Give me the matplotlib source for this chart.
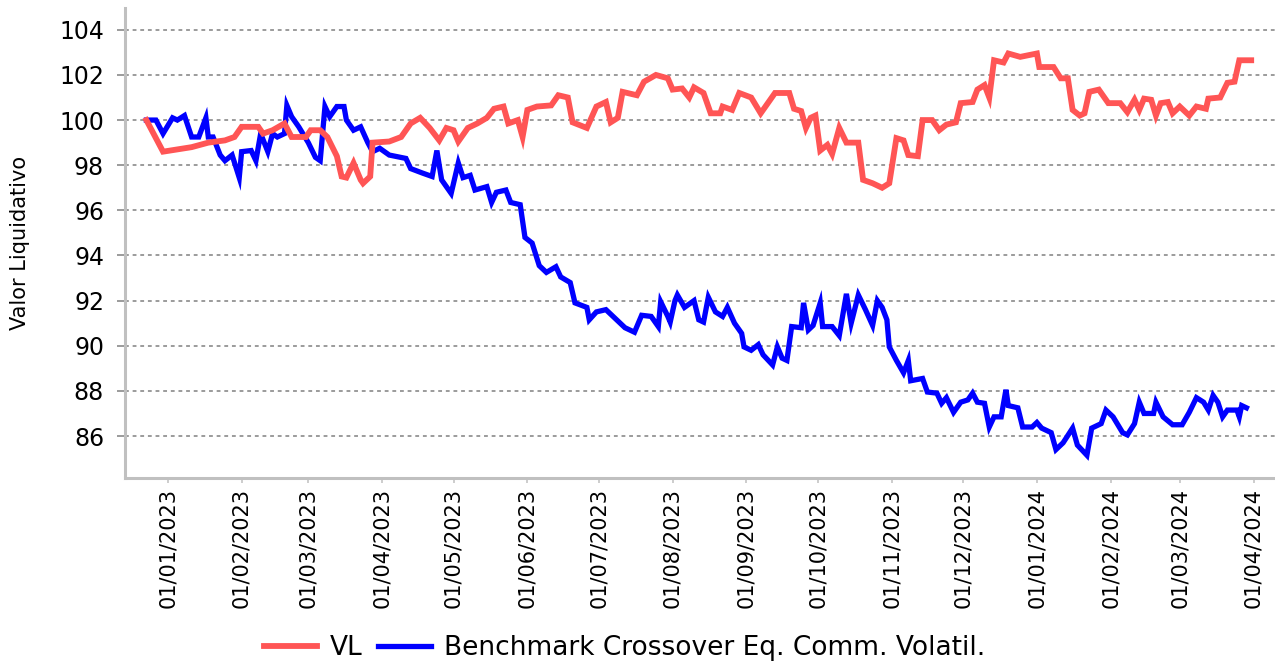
import matplotlib
matplotlib.use('Agg')
import matplotlib.pyplot as plt
import matplotlib.dates as mdates
import pandas as pd

# VL (fundo)
vl_dates = ['2022-12-23', '2022-12-30', '2023-01-11', '2023-01-18', '2023-01-25', '2023-01-29',
            '2023-02-01', '2023-02-08', '2023-02-10', '2023-02-14', '2023-02-19', '2023-02-22',
            '2023-02-28', '2023-03-02', '2023-03-06', '2023-03-09', '2023-03-13', '2023-03-15',
            '2023-03-17', '2023-03-20', '2023-03-23', '2023-03-24', '2023-03-27', '2023-03-28',
            '2023-04-04', '2023-04-09', '2023-04-13', '2023-04-17', '2023-04-21', '2023-04-25',
            '2023-04-28', '2023-05-01', '2023-05-03', '2023-05-07', '2023-05-11', '2023-05-15',
            '2023-05-18', '2023-05-22', '2023-05-24', '2023-05-28', '2023-05-30', '2023-06-01',
            '2023-06-05', '2023-06-11', '2023-06-14', '2023-06-18', '2023-06-20', '2023-06-26',
            '2023-06-30', '2023-07-04', '2023-07-06', '2023-07-09', '2023-07-11', '2023-07-17',
            '2023-07-20', '2023-07-25', '2023-07-30', '2023-08-01', '2023-08-05', '2023-08-08',
            '2023-08-10', '2023-08-14', '2023-08-17', '2023-08-21', '2023-08-22', '2023-08-26',
            '2023-08-29', '2023-09-03', '2023-09-07', '2023-09-10', '2023-09-13', '2023-09-19',
            '2023-09-21', '2023-09-24', '2023-09-26', '2023-09-28', '2023-09-30', '2023-10-02',
            '2023-10-05', '2023-10-07', '2023-10-10', '2023-10-13', '2023-10-18', '2023-10-20',
            '2023-10-24', '2023-10-28', '2023-10-31', '2023-11-03', '2023-11-06', '2023-11-08',
            '2023-11-12', '2023-11-14', '2023-11-18', '2023-11-21', '2023-11-24', '2023-11-28',
            '2023-11-30', '2023-12-05', '2023-12-07', '2023-12-10', '2023-12-12', '2023-12-14',
            '2023-12-18', '2023-12-20', '2023-12-25', '2024-01-01', '2024-01-02', '2024-01-08',
            '2024-01-11', '2024-01-14', '2024-01-16', '2024-01-19', '2024-01-21', '2024-01-23',
            '2024-01-27', '2024-01-31', '2024-02-05', '2024-02-08', '2024-02-11', '2024-02-13',
            '2024-02-15', '2024-02-18', '2024-02-20', '2024-02-22', '2024-02-25', '2024-02-27',
            '2024-03-01', '2024-03-05', '2024-03-08', '2024-03-12', '2024-03-13', '2024-03-18',
            '2024-03-21', '2024-03-24', '2024-03-26', '2024-03-31']
vl_values = [100.0, 98.6, 98.8, 99.0, 99.1, 99.25,
             99.7, 99.7, 99.4, 99.55, 99.85, 99.25,
             99.25, 99.55, 99.55, 99.25, 98.4, 97.5,
             97.45, 98.1, 97.35, 97.2, 97.5, 99.0,
             99.05, 99.25, 99.85, 100.1, 99.65, 99.1,
             99.65, 99.55, 99.05, 99.65, 99.85, 100.1,
             100.5, 100.6, 99.85, 100.0, 99.25, 100.45,
             100.6, 100.65, 101.1, 101.0, 99.9, 99.65,
             100.6, 100.8, 99.9, 100.1, 101.25, 101.1,
             101.7, 102.0, 101.85, 101.35, 101.4, 101.0,
             101.45, 101.2, 100.3, 100.3, 100.6, 100.45,
             101.2, 101.0, 100.3, 100.75, 101.2, 101.2,
             100.5, 100.4, 99.65, 100.1, 100.2, 98.65,
             98.9, 98.5, 99.65, 99.0, 99.0, 97.35,
             97.2, 97.0, 97.2, 99.2, 99.1, 98.45,
             98.4, 100.0, 100.0, 99.55, 99.8, 99.9,
             100.75, 100.8, 101.35, 101.55, 101.0, 102.65,
             102.55, 102.95, 102.8, 102.95, 102.35, 102.35,
             101.85, 101.85, 100.45, 100.2, 100.3, 101.25,
             101.35, 100.75, 100.75, 100.35, 100.9, 100.45,
             100.95, 100.9, 100.2, 100.75, 100.8, 100.3,
             100.6, 100.2, 100.6, 100.5, 100.95, 101.0,
             101.65, 101.7, 102.65, 102.65]

# Benchmark
bm_dates = ['2022-12-23', '2022-12-27', '2022-12-30', '2023-01-03', '2023-01-05', '2023-01-08',
            '2023-01-11', '2023-01-14', '2023-01-17', '2023-01-18', '2023-01-20', '2023-01-23',
            '2023-01-25', '2023-01-28', '2023-01-31', '2023-02-01', '2023-02-05', '2023-02-07',
            '2023-02-09', '2023-02-12', '2023-02-14', '2023-02-16', '2023-02-19', '2023-02-20',
            '2023-02-22', '2023-02-25', '2023-03-01', '2023-03-04', '2023-03-06', '2023-03-08',
            '2023-03-10', '2023-03-13', '2023-03-16', '2023-03-17', '2023-03-20', '2023-03-23',
            '2023-03-26', '2023-03-28', '2023-03-31', '2023-04-04', '2023-04-11', '2023-04-13',
            '2023-04-18', '2023-04-22', '2023-04-24', '2023-04-26', '2023-04-30', '2023-05-03',
            '2023-05-05', '2023-05-08', '2023-05-10', '2023-05-15', '2023-05-17', '2023-05-19',
            '2023-05-23', '2023-05-25', '2023-05-29', '2023-05-31', '2023-06-03', '2023-06-06',
            '2023-06-09', '2023-06-13', '2023-06-15', '2023-06-19', '2023-06-21', '2023-06-26',
            '2023-06-27', '2023-06-30', '2023-07-04', '2023-07-07', '2023-07-12', '2023-07-16',
            '2023-07-19', '2023-07-23', '2023-07-26', '2023-07-27', '2023-07-30', '2023-07-31',
            '2023-08-02', '2023-08-03', '2023-08-06', '2023-08-10', '2023-08-12', '2023-08-14',
            '2023-08-16', '2023-08-19', '2023-08-22', '2023-08-24', '2023-08-27', '2023-08-30',
            '2023-08-31', '2023-09-03', '2023-09-06', '2023-09-08', '2023-09-12', '2023-09-14',
            '2023-09-16', '2023-09-18', '2023-09-20', '2023-09-24', '2023-09-25', '2023-09-27',
            '2023-09-29', '2023-10-02', '2023-10-03', '2023-10-07', '2023-10-10', '2023-10-13',
            '2023-10-15', '2023-10-18', '2023-10-21', '2023-10-24', '2023-10-26', '2023-10-28',
            '2023-10-30', '2023-10-31', '2023-11-03', '2023-11-06', '2023-11-08', '2023-11-09',
            '2023-11-14', '2023-11-16', '2023-11-20', '2023-11-22', '2023-11-24', '2023-11-27',
            '2023-11-30', '2023-12-03', '2023-12-05', '2023-12-07', '2023-12-10', '2023-12-12',
            '2023-12-14', '2023-12-17', '2023-12-19', '2023-12-20', '2023-12-24', '2023-12-26',
            '2023-12-30', '2024-01-01', '2024-01-03', '2024-01-07', '2024-01-09', '2024-01-12',
            '2024-01-16', '2024-01-18', '2024-01-22', '2024-01-24', '2024-01-28', '2024-01-30',
            '2024-02-02', '2024-02-06', '2024-02-08', '2024-02-11', '2024-02-13', '2024-02-15',
            '2024-02-19', '2024-02-20', '2024-02-23', '2024-02-27', '2024-03-02', '2024-03-05',
            '2024-03-08', '2024-03-11', '2024-03-13', '2024-03-15', '2024-03-17', '2024-03-19',
            '2024-03-21', '2024-03-25', '2024-03-26', '2024-03-27', '2024-03-29']
bm_values = [100.0, 100.0, 99.4, 100.1, 100.0, 100.2,
             99.25, 99.25, 100.1, 99.25, 99.25, 98.45,
             98.2, 98.45, 97.45, 98.6, 98.65, 98.2,
             99.4, 98.6, 99.4, 99.25, 99.4, 100.65,
             100.15, 99.7, 99.0, 98.35, 98.2, 100.6,
             100.15, 100.6, 100.6, 100.0, 99.55, 99.7,
             99.0, 98.6, 98.75, 98.45, 98.3, 97.85,
             97.65, 97.5, 98.65, 97.35, 96.75, 98.1,
             97.45, 97.55, 96.9, 97.05, 96.35, 96.8,
             96.9, 96.35, 96.25, 94.8, 94.55, 93.55,
             93.25, 93.5, 93.05, 92.8, 91.9, 91.7,
             91.15, 91.5, 91.6, 91.3, 90.8, 90.6,
             91.35, 91.3, 90.85, 91.95, 91.3, 91.05,
             92.0, 92.25, 91.7, 92.0, 91.15, 91.05,
             92.15, 91.5, 91.3, 91.7, 91.0, 90.55,
             89.95, 89.8, 90.05, 89.6, 89.15, 89.95,
             89.45, 89.35, 90.85, 90.8, 91.9, 90.7,
             90.9, 91.9, 90.85, 90.85, 90.45, 92.3,
             91.0, 92.25, 91.6, 90.9, 92.0, 91.7,
             91.15, 89.95, 89.35, 88.8, 89.35, 88.45,
             88.55, 87.95, 87.9, 87.45, 87.7, 87.05,
             87.5, 87.6, 87.9, 87.5, 87.45, 86.4,
             86.85, 86.85, 88.05, 87.35, 87.25, 86.4,
             86.4, 86.6, 86.35, 86.15, 85.4, 85.7,
             86.35, 85.6, 85.15, 86.35, 86.55, 87.15,
             86.85, 86.15, 86.05, 86.55, 87.5, 87.0,
             87.0, 87.5, 86.85, 86.5, 86.5, 87.05,
             87.7, 87.5, 87.15, 87.8, 87.5, 86.85,
             87.15, 87.15, 86.85, 87.35, 87.25]

y_ticks = [86, 88, 90, 92, 94, 96, 98, 100, 102, 104]

vl = pd.Series(vl_values, index=pd.to_datetime(vl_dates))
bm = pd.Series(bm_values, index=pd.to_datetime(bm_dates))

fig = plt.figure(figsize=(12.75, 6.64), dpi=100)
ax = fig.add_axes([0.098, 0.2801, 0.902, 0.708])

ax.plot(vl.index, vl.values, color='#ff5555', lw=4.2, label='VL', zorder=3,
        solid_joinstyle='miter')
ax.plot(bm.index, bm.values, color='#0000ff', lw=3.8,
        label='Benchmark Crossover Eq. Comm. Volatil.', zorder=2, solid_joinstyle='miter')

# eixos
ax.set_xlim(pd.Timestamp('2022-12-14'), pd.Timestamp('2024-04-10'))
ax.set_ylim(84.14, 104.97)
ax.set_yticks(y_ticks)
ax.xaxis.set_major_locator(mdates.MonthLocator(bymonthday=1))
ax.xaxis.set_major_formatter(mdates.DateFormatter('%d/%m/%Y'))

ax.grid(axis='y', color='#808080', linestyle=(0, (2.5, 2.5)), lw=1.1)
ax.set_axisbelow(True)
for s in ['top', 'right']:
    ax.spines[s].set_visible(False)
for s in ['left', 'bottom']:
    ax.spines[s].set_color('#c0c0c0')
    ax.spines[s].set_linewidth(2.2)

ax.tick_params(axis='y', labelsize=17, length=6, width=1.1, color='#808080', pad=9)
ax.tick_params(axis='x', labelsize=15, length=3.6, width=1.1, color='#c0c0c0', pad=3.6,
               labelrotation=90)

fig.text(0.016, 0.634, 'Valor Liquidativo', rotation=90, ha='center', va='center', fontsize=15)

fig.legend(loc='center', bbox_to_anchor=(0.49, 0.024), ncol=2, frameon=False, fontsize=19,
           handlelength=2.0, handletextpad=0.5, columnspacing=0.6)

fig.savefig('out.png', dpi=100)
